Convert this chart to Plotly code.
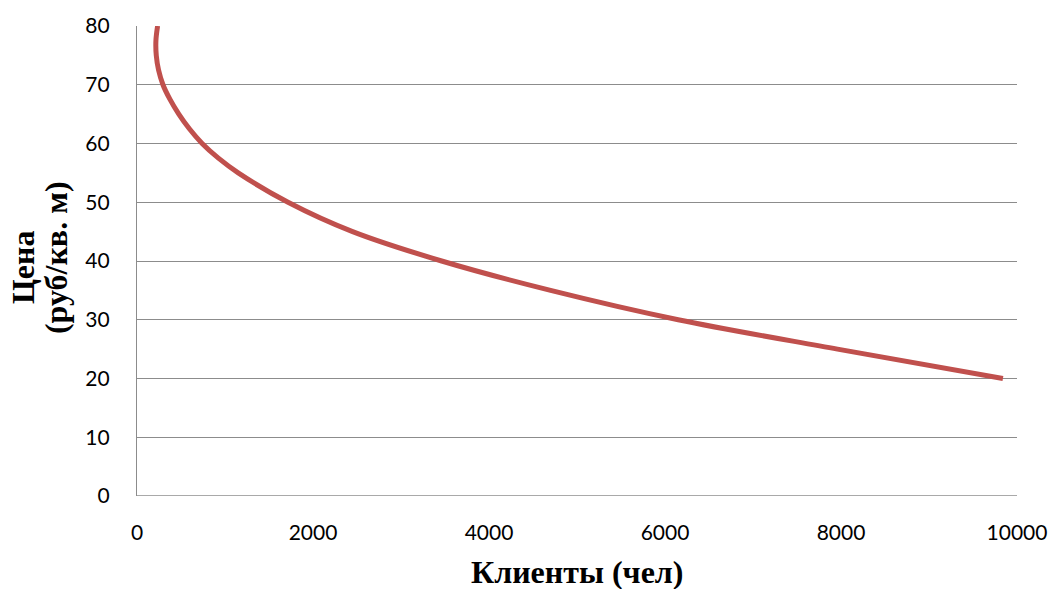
import plotly.graph_objects as go

price = [80, 77.5, 75, 72.5, 70, 67.5, 65, 62.5, 60, 57.5, 55, 50, 45, 40, 35, 30, 25, 20]
clients = [234, 215, 219, 245, 295, 375, 475, 595, 740, 925, 1150, 1716, 2450, 3462, 4700, 6150, 7960, 9840]

x_ticks = [0, 2000, 4000, 6000, 8000, 10000]
y_ticks = [0, 10, 20, 30, 40, 50, 60, 70, 80]

x_title = "Клиенты (чел)"
y_title_1 = "Цена"
y_title_2 = "(руб/кв. м)"

tick_font = dict(family="Lato, Open Sans, sans-serif", size=21, color="black")
title_font = dict(family="Liberation Serif, Times New Roman, serif", size=32, color="black")

fig = go.Figure()
fig.add_trace(go.Scatter(
    x=clients, y=price, mode="lines",
    line=dict(color="#C0504D", width=5, shape="spline", smoothing=1.0),
    showlegend=False, hoverinfo="skip"))

fig.update_layout(
    width=1059, height=589,
    margin=dict(l=137, r=36, t=24, b=93),
    paper_bgcolor="white", plot_bgcolor="white",
    xaxis=dict(range=[0, 10000], tickvals=x_ticks, ticktext=[str(v) for v in x_ticks],
               showgrid=False, zeroline=False, showline=False, ticks="",
               ticklabelstandoff=22, tickfont=tick_font),
    yaxis=dict(range=[0, 80], tickvals=y_ticks, showgrid=True, gridcolor="#8C8C8C", gridwidth=1.3,
               zeroline=False, showline=True, linecolor="#8C8C8C", linewidth=1.3, ticks="",
               ticklabelstandoff=22, tickfont=tick_font),
)
fig.add_shape(type="line", xref="x", yref="y", x0=0, x1=10000, y0=0, y1=0,
              line=dict(color="#8C8C8C", width=1.3), layer="below")

fig.add_annotation(text="<b>" + x_title + "</b>", xref="paper", yref="paper",
                   x=0.5, y=-0.162, xanchor="center", yanchor="middle",
                   showarrow=False, font=title_font)
fig.add_annotation(text="<b>" + y_title_1 + "</b>", xref="paper", yref="paper",
                   x=(22 - 137) / 884, y=0.486, xanchor="center", yanchor="middle",
                   textangle=-90, showarrow=False, font=title_font)
fig.add_annotation(text="<b>" + y_title_2 + "</b>", xref="paper", yref="paper",
                   x=(55 - 137) / 884, y=0.507, xanchor="center", yanchor="middle",
                   textangle=-90, showarrow=False, font=title_font)

fig.write_html("out.html")
